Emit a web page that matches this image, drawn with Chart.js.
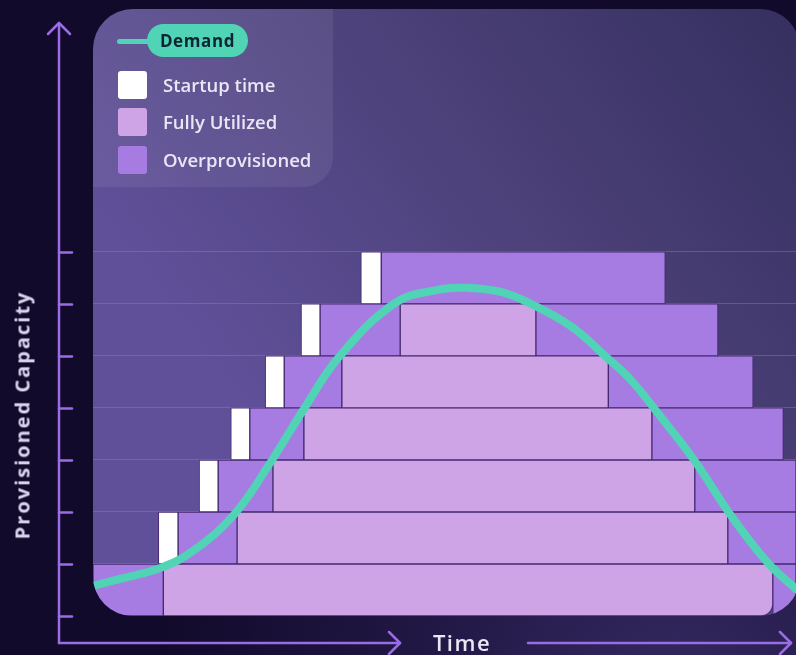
<!DOCTYPE html>
<html>
<head>
<meta charset="utf-8">
<title>Provisioned Capacity vs Demand</title>
<script src="https://cdn.jsdelivr.net/npm/chart.js@4/dist/chart.umd.min.js"></script>
<style>
  html, body { margin: 0; padding: 0; background: #110a2a; }
  #wrap { position: relative; width: 796px; height: 655px; overflow: hidden; font-family: "Open Sans", sans-serif; }
  #chart { position: absolute; left: 0; top: 0; }
  #legend { position: absolute; left: 93px; top: 9px; width: 240px; height: 178px;
            border-radius: 40px 0 30px 0; background: rgba(255,255,255,0.07); }
  #legend .demand-line { position: absolute; left: 24px; top: 30px; width: 34px; height: 5px; border-radius: 3px; }
  #legend .demand-pill { position: absolute; left: 54px; top: 15px; width: 101px; height: 33px; border-radius: 17px;
            color: #0c2433; font-weight: 700; font-size: 17px; letter-spacing: 0.6px; line-height: 33px; text-align: center; }
  #legend .item { position: absolute; left: 25px; height: 28px; }
  #legend .swatch { position: absolute; left: 0; top: 0; width: 29px; height: 28px; border-radius: 3px; }
  #legend .label { position: absolute; left: 45px; top: 0; line-height: 28px; white-space: nowrap;
            color: #ebe6f5; font-size: 18.5px; font-weight: 600; }
  #ytitle { position: absolute; left: 22px; top: 415px; transform: translate(-50%, -50%) rotate(-90deg);
            white-space: nowrap; color: #dcd4ee; font-size: 20px; font-weight: 700; letter-spacing: 2px; }
  #xtitle { position: absolute; left: 462px; top: 642px; transform: translate(-50%, -50%);
            white-space: nowrap; color: #ebe6f3; font-size: 22px; font-weight: 600; letter-spacing: 1.5px; }
</style>
</head>
<body>
<div id="wrap">
  <canvas id="chart" width="796" height="655"></canvas>
  <div id="legend"></div>
  <div id="ytitle">Provisioned Capacity</div>
  <div id="xtitle">Time</div>
</div>
<script>
// Capacity levels (one row of instances per level, bottom to top)
const levels = [0, 1, 2, 3, 4, 5, 6];

// Time spans per level, on a 0-100 time scale
const startupTime   = [null, [9.3, 12.1], [15.1, 17.8], [19.6, 22.3], [24.5, 27.2], [29.6, 32.3], [38.1, 41.0]];
const overLead      = [[0, 10.0], [12.1, 20.5], [17.8, 25.6], [22.3, 30.0], [27.2, 35.4], [32.3, 43.7], [41.0, 81.4]];
const fullyUtilized = [[10.0, 96.7], [20.5, 90.3], [25.6, 85.6], [30.0, 79.5], [35.4, 73.3], [43.7, 63.0], null];
const overTail      = [[96.7, 100], [90.3, 100], [85.6, 100], [79.5, 98.2], [73.3, 93.9], [63.0, 88.9], null];

// Demand over time
const demandTime  = [0, 5, 9.5, 14, 20, 25, 30, 35, 43, 49, 53, 58, 62, 68, 73, 76.5, 80, 85.5, 90.5, 96, 100];
const demandLevel = [0.58, 0.75, 0.92, 1.23, 1.94, 2.9, 3.98, 4.98, 6.02, 6.27, 6.31, 6.23, 6.02, 5.57, 4.98, 4.54, 3.96, 3.0, 1.98, 1.02, 0.52];

// Axis tick levels on the capacity axis
const capacityTicks = [0, 1, 2, 3, 4, 5, 6, 7];

const COLORS = {
  startup: '#ffffff',
  fully: '#cfa4e7',
  over: '#a67ce2',
  demand: '#50d4b5',
  edge: '#43296f',
  axis: '#9b6ce6'
};

function spans(list) {
  const out = [];
  list.forEach((span, i) => { if (span) out.push({ x: span, y: levels[i] + 0.5 }); });
  return out;
}

const barCommon = {
  type: 'bar',
  indexAxis: 'y',
  grouped: false,
  categoryPercentage: 1,
  barPercentage: 1,
  borderColor: COLORS.edge,
  borderWidth: 1,
  borderSkipped: false,
  order: 1
};

const data = {
  datasets: [
    {
      type: 'line',
      label: 'Demand',
      indexAxis: 'x',
      data: demandTime.map((t, i) => ({ x: t, y: demandLevel[i] })),
      borderColor: COLORS.demand,
      backgroundColor: COLORS.demand,
      borderWidth: 8,
      borderCapStyle: 'round',
      borderJoinStyle: 'round',
      pointRadius: 0,
      tension: 0.4,
      order: 0
    },
    Object.assign({}, barCommon, { label: 'Startup time', data: spans(startupTime), backgroundColor: COLORS.startup }),
    Object.assign({}, barCommon, {
      label: 'Fully Utilized', data: spans(fullyUtilized), backgroundColor: COLORS.fully,
      // the base row ends in a softened corner against the panel edge
      borderRadius: ctx => (ctx.dataIndex === 0 ? { topLeft: 0, topRight: 0, bottomLeft: 0, bottomRight: 12 } : 0)
    }),
    Object.assign({}, barCommon, { label: 'Overprovisioned', data: spans(overLead).concat(spans(overTail)), backgroundColor: COLORS.over })
  ]
};

const PANEL_RADIUS = 40;

function panelPath(ctx, area) {
  const l = area.left, t = area.top, r = area.right + 4, b = area.bottom, rad = PANEL_RADIUS;
  ctx.beginPath();
  ctx.moveTo(l + rad, t);
  ctx.lineTo(r - rad, t);
  ctx.arcTo(r, t, r, t + rad, rad);
  ctx.lineTo(r, b - rad);
  ctx.arcTo(r, b, r - rad, b, rad);
  ctx.lineTo(l + rad, b);
  ctx.arcTo(l, b, l, b - rad, rad);
  ctx.lineTo(l, t + rad);
  ctx.arcTo(l, t, l + rad, t, rad);
  ctx.closePath();
}

// Page backdrop and the rounded gradient panel behind the plot
const backdrop = {
  id: 'backdrop',
  beforeDraw(chart) {
    const { ctx, width, height, chartArea: a } = chart;
    ctx.save();
    const bg = ctx.createRadialGradient(width * 0.85, height + 40, 20, width * 0.85, height + 40, 520);
    bg.addColorStop(0, '#33285e');
    bg.addColorStop(0.45, '#221846');
    bg.addColorStop(1, '#110a2a');
    ctx.fillStyle = bg;
    ctx.fillRect(0, 0, width, height);

    const g = ctx.createLinearGradient(a.left + 157, a.top + 411, a.right, a.top);
    g.addColorStop(0, '#60509a');
    g.addColorStop(0.5, '#4c4179');
    g.addColorStop(1, '#353060');
    panelPath(ctx, a);
    ctx.fillStyle = g;
    ctx.fill();
    ctx.restore();
  },
  beforeDatasetsDraw(chart) {
    chart.ctx.save();
    panelPath(chart.ctx, chart.chartArea);
    chart.ctx.clip();
  },
  afterDatasetsDraw(chart) {
    chart.ctx.restore();
  }
};

function arrowHead(ctx, x, y, dir) {
  ctx.beginPath();
  if (dir === 'up') {
    ctx.moveTo(x - 11, y + 11); ctx.lineTo(x, y); ctx.lineTo(x + 11, y + 11);
  } else {
    ctx.moveTo(x - 11, y - 11); ctx.lineTo(x, y); ctx.lineTo(x - 11, y + 11);
  }
  ctx.stroke();
}

// Arrowed axes drawn just outside the panel, ticks placed by the capacity scale
const arrowAxes = {
  id: 'arrowAxes',
  afterDraw(chart) {
    const { ctx, chartArea: a } = chart;
    const yScale = chart.scales.y;
    const ax = a.left - 34;
    const ay = a.bottom + 27;
    ctx.save();
    ctx.strokeStyle = COLORS.axis;
    ctx.lineWidth = 2.5;
    ctx.lineCap = 'round';
    ctx.lineJoin = 'round';
    ctx.beginPath();
    ctx.moveTo(ax, ay);
    ctx.lineTo(ax, a.top + 14);
    ctx.stroke();
    arrowHead(ctx, ax, a.top + 14, 'up');
    capacityTicks.forEach(v => {
      const py = Math.round(yScale.getPixelForValue(v)) + 0.5;
      ctx.beginPath();
      ctx.moveTo(ax, py);
      ctx.lineTo(ax + 13, py);
      ctx.stroke();
    });
    ctx.beginPath();
    ctx.moveTo(ax, ay);
    ctx.lineTo(400, ay);
    ctx.stroke();
    arrowHead(ctx, 400, ay, 'right');
    ctx.beginPath();
    ctx.moveTo(528, ay);
    ctx.lineTo(791, ay);
    ctx.stroke();
    arrowHead(ctx, 791, ay, 'right');
    ctx.restore();
  }
};

// HTML legend built from the datasets
const htmlLegend = {
  id: 'htmlLegend',
  afterUpdate(chart) {
    const box = document.getElementById('legend');
    box.innerHTML = '';
    const sets = chart.data.datasets;
    const demand = sets[0];
    const line = document.createElement('div');
    line.className = 'demand-line';
    line.style.background = demand.borderColor;
    const pill = document.createElement('div');
    pill.className = 'demand-pill';
    pill.style.background = demand.borderColor;
    pill.textContent = demand.label;
    box.appendChild(line);
    box.appendChild(pill);
    const tops = [62, 99, 137];
    sets.slice(1).forEach((ds, i) => {
      const item = document.createElement('div');
      item.className = 'item';
      item.style.top = tops[i] + 'px';
      const sw = document.createElement('div');
      sw.className = 'swatch';
      sw.style.background = ds.backgroundColor;
      const lb = document.createElement('div');
      lb.className = 'label';
      lb.textContent = ds.label;
      item.appendChild(sw);
      item.appendChild(lb);
      box.appendChild(item);
    });
  }
};

new Chart(document.getElementById('chart'), {
  type: 'bar',
  data,
  options: {
    responsive: false,
    animation: false,
    devicePixelRatio: 1,
    layout: { padding: { left: 93, top: 9, right: 0, bottom: 39 } },
    plugins: { legend: { display: false }, tooltip: { enabled: false } },
    scales: {
      x: {
        type: 'linear', min: 0, max: 100,
        display: true,
        offset: false,
        ticks: { display: false },
        grid: { display: false, drawTicks: false, offset: false },
        border: { display: false },
        afterFit(s) { s.height = 0; }
      },
      y: {
        type: 'linear', min: 0, max: 11.67,
        display: true,
        offset: false,
        ticks: { display: false, stepSize: 1 },
        afterBuildTicks(s) { s.ticks = capacityTicks.map(v => ({ value: v })); },
        grid: {
          offset: false,
          drawTicks: false,
          lineWidth: 1,
          color: ctx => (ctx.tick && ctx.tick.value > 0) ? 'rgba(150, 128, 215, 0.4)' : 'rgba(0,0,0,0)'
        },
        border: { display: false },
        afterFit(s) { s.width = 0; }
      }
    }
  },
  plugins: [backdrop, arrowAxes, htmlLegend]
});
</script>
</body>
</html>
